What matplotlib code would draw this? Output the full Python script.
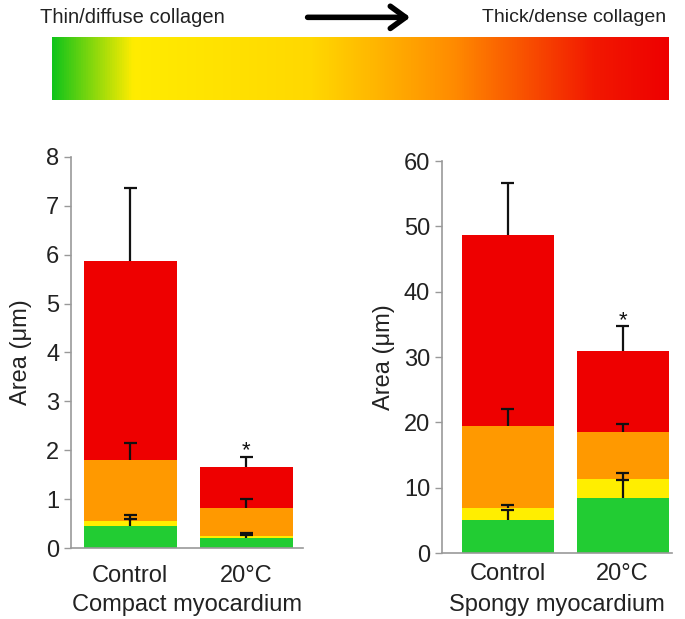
import numpy as np
import matplotlib
matplotlib.use('Agg')
from matplotlib import pyplot as plt
from matplotlib.colors import LinearSegmentedColormap

plt.rcParams['font.family'] = ['Liberation Sans', 'DejaVu Sans']

groups = ['Control', '20°C']
layers = ['thin', 'intermediate', 'thick', 'dense']
layer_colors = ['#22cc33', '#ffee00', '#ff9900', '#ee0000']

# segment areas per layer (bottom -> top), one value per group
compact_area = [[0.44, 0.20], [0.11, 0.05], [1.25, 0.56], [4.07, 0.85]]
compact_sem = [[0.16, 0.07], [0.12, 0.06], [0.35, 0.19], [1.49, 0.21]]
spongy_area = [[5.0, 8.4], [1.9, 3.0], [12.5, 7.1], [29.2, 12.4]]
spongy_sem = [[1.6, 2.7], [0.4, 0.8], [2.6, 1.3], [8.0, 3.8]]

compact_star = 1   # group index with significance mark
spongy_star = 1

grad_stops = [(0.0, '#11c41a'), (0.13, '#ffec00'), (0.42, '#ffd800'),
              (0.65, '#ff8c00'), (0.88, '#f21800'), (1.0, '#ee0000')]

fig = plt.figure(figsize=(6.85, 6.19), dpi=100)

# gradient legend bar
cax = fig.add_axes([0.0759, 0.8384, 0.8993, 0.1018])
cmap = LinearSegmentedColormap.from_list('coll', grad_stops)
cax.imshow(np.linspace(0, 1, 512)[None, :], aspect='auto', cmap=cmap)
cax.set_axis_off()
fig.text(0.058, 0.972, 'Thin/diffuse collagen', fontsize=14.5, color='#222222', va='center', ha='left')
fig.text(0.972, 0.972, 'Thick/dense collagen', fontsize=14, color='#222222', va='center', ha='right')
fig.add_artist(matplotlib.patches.FancyArrowPatch((0.445, 0.972), (0.603, 0.972), transform=fig.transFigure,
               arrowstyle='->,head_length=0.55,head_width=0.4', mutation_scale=20, lw=4, color='black'))


def panel(rect, area, sem, ylim, yticks, xlim, xlabel, star, pad):
    ax = fig.add_axes(rect)
    x = np.arange(len(groups))
    bottom = np.zeros(len(groups))
    tops = []
    for i in range(len(layers)):
        vals = np.array(area[i])
        ax.bar(x, vals, width=0.8, bottom=bottom, color=layer_colors[i], zorder=2)
        bottom = bottom + vals
        tops.append((bottom.copy(), np.array(sem[i])))
    for top, s in tops:
        ax.vlines(x, top, top + s, color='#111111', lw=1.6, zorder=3)
        ax.hlines(top + s, x - 0.055, x + 0.055, color='#111111', lw=1.6, zorder=3)
    top, s = tops[-1]
    ax.text(x[star], top[star] + s[star] - ylim[1] * 0.012, '*', ha='center', va='bottom',
            fontsize=16, color='#111111')
    ax.set_ylim(*ylim)
    ax.set_xlim(*xlim)
    ax.set_yticks(yticks)
    ax.set_xticks(x)
    ax.set_xticklabels(groups)
    ax.tick_params(axis='x', length=0, labelsize=17, colors='#222222', pad=pad)
    ax.tick_params(axis='y', length=5, width=1, color='#999999', labelsize=17, labelcolor='#222222')
    for sp in ['top', 'right']:
        ax.spines[sp].set_visible(False)
    for sp in ['left', 'bottom']:
        ax.spines[sp].set_color('#999999')
        ax.spines[sp].set_linewidth(1.2)
    ax.spines['left'].set_bounds(ylim[0], ylim[1])
    ax.set_ylabel('Area (μm)', fontsize=17, color='#222222')
    # group caption sits on a common baseline below both panels
    fig.text(rect[0] + rect[2] / 2, 0.0226, xlabel, fontsize=17, color='#222222',
             ha='center', va='center')
    return ax


ax1 = panel([0.1036, 0.1147, 0.3387, 0.6317], compact_area, compact_sem, (0, 8), range(0, 9),
            (-0.51, 1.49), 'Compact myocardium', compact_star, 12)
ax2 = panel([0.6453, 0.1066, 0.3358, 0.6333], spongy_area, spongy_sem, (0, 60), range(0, 61, 10),
            (-0.57, 1.43), 'Spongy myocardium', spongy_star, 7)
ax1.yaxis.set_label_coords(-0.168, 0.5)
ax2.yaxis.set_label_coords(-0.204, 0.5)

plt.savefig('out.png', dpi=100)
